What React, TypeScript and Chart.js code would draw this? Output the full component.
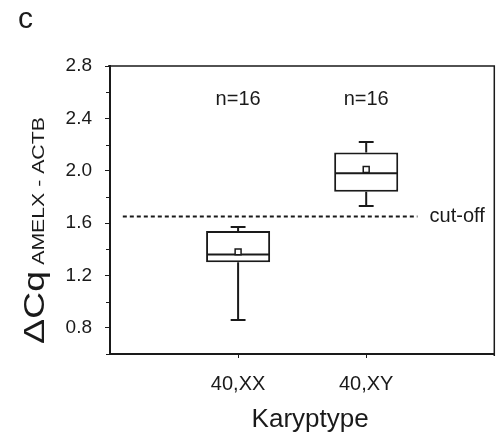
import React, { useEffect, useRef } from "react";
import { Chart, registerables } from "chart.js";

Chart.register(...registerables);

// ---------- data ----------
const categories = ["40,XX", "40,XY"];
const categoryPositions = [1, 2];
const whiskerLow = [0.86, 1.73];
const q1 = [1.3, 1.84];
const median = [1.36, 1.98];
const q3 = [1.54, 2.14];
const whiskerHigh = [1.57, 2.22];
const means = [1.38, 2.01];
const nLabels = ["n=16", "n=16"];
const cutoffValue = 1.65;
const cutoffRange = [0.1, 2.4];
const cutoffLabel = "cut-off";
const yTicks = [0.6, 0.8, 1.0, 1.2, 1.4, 1.6, 1.8, 2.0, 2.2, 2.4, 2.6, 2.8];
const yTickLabels = ["", "0.8", "", "1.2", "", "1.6", "", "2.0", "", "2.4", "", "2.8"];
const xTitle = "Karyptype";
const yTitleMain = "ΔCq";
const yTitleSub = "AMELX - ACTB";
const panelLabel = "c";

// ---------- style ----------
const FONT = '"Liberation Sans", Arial, Helvetica, sans-serif';
const INK = "#1a1a1a";
const BOX_HALF = 0.25;
const CAP_HALF = 0.058;
const N_LABEL_Y = 2.5;
const CUTOFF_LABEL_X = 2.495;

const decorPlugin = {
  id: "decor",
  afterDatasetDraw(chart: any, args: any) {
    if (args.index !== 0) return;
    const { ctx } = chart;
    const x = chart.scales.x;
    const y = chart.scales.y;
    ctx.save();
    ctx.strokeStyle = INK;
    ctx.lineWidth = 2;
    ctx.lineCap = "butt";
    categoryPositions.forEach((c, i) => {
      const cx = x.getPixelForValue(c);
      const l = x.getPixelForValue(c - BOX_HALF);
      const r = x.getPixelForValue(c + BOX_HALF);
      const cl = x.getPixelForValue(c - CAP_HALF);
      const cr = x.getPixelForValue(c + CAP_HALF);
      const yMed = y.getPixelForValue(median[i]);
      const yQ1 = y.getPixelForValue(q1[i]);
      const yQ3 = y.getPixelForValue(q3[i]);
      const yLo = y.getPixelForValue(whiskerLow[i]);
      const yHi = y.getPixelForValue(whiskerHigh[i]);
      ctx.beginPath();
      ctx.moveTo(l + 1, yMed);
      ctx.lineTo(r - 1, yMed);
      ctx.moveTo(cx, yQ3);
      ctx.lineTo(cx, yHi);
      ctx.moveTo(cl, yHi);
      ctx.lineTo(cr, yHi);
      ctx.moveTo(cx, yQ1);
      ctx.lineTo(cx, yLo);
      ctx.moveTo(cl, yLo);
      ctx.lineTo(cr, yLo);
      ctx.stroke();
    });
    ctx.restore();
  },
  afterDraw(chart: any) {
    const { ctx, chartArea } = chart;
    const x = chart.scales.x;
    const y = chart.scales.y;
    ctx.save();
    ctx.strokeStyle = INK;
    ctx.lineWidth = 1.5;
    ctx.beginPath();
    ctx.moveTo(chartArea.left - 2, chartArea.top);
    ctx.lineTo(chartArea.right, chartArea.top);
    ctx.lineTo(chartArea.right, chartArea.bottom + 2);
    ctx.stroke();
    ctx.lineWidth = 1;
    ctx.beginPath();
    yTicks.forEach((v, i) => {
      if (yTickLabels[i] !== "") return;
      const py = Math.round(y.getPixelForValue(v)) + 0.5;
      ctx.moveTo(chartArea.left - 4, py);
      ctx.lineTo(chartArea.left, py);
    });
    ctx.stroke();

    ctx.fillStyle = INK;
    ctx.font = `20px ${FONT}`;
    ctx.textAlign = "center";
    ctx.textBaseline = "alphabetic";
    categoryPositions.forEach((c, i) => {
      ctx.fillText(nLabels[i], x.getPixelForValue(c), y.getPixelForValue(N_LABEL_Y));
    });
    ctx.textAlign = "left";
    ctx.textBaseline = "middle";
    ctx.fillText(cutoffLabel, x.getPixelForValue(CUTOFF_LABEL_X), y.getPixelForValue(cutoffValue));
    ctx.font = `26px ${FONT}`;
    ctx.textAlign = "center";
    ctx.textBaseline = "alphabetic";
    ctx.fillText(xTitle, (chartArea.left + chartArea.right) / 2 + 8, chart.height - 7.5);
    ctx.font = `30px ${FONT}`;
    ctx.textAlign = "left";
    ctx.fillText(panelLabel, 18, 28);
    // y title (stretched along the text direction)
    ctx.translate(43.5, 344);
    ctx.rotate(-Math.PI / 2);
    ctx.scale(1.25, 1);
    ctx.font = `30px ${FONT}`;
    ctx.fillText(yTitleMain, 0, 0);
    const w = ctx.measureText(yTitleMain).width;
    ctx.font = `17px ${FONT}`;
    ctx.fillText(yTitleSub, w + 5, 0);
    ctx.restore();
  },
};

export default function App() {
  const ref = useRef<HTMLCanvasElement | null>(null);
  useEffect(() => {
    document.body.style.margin = "0";
    const canvas = ref.current;
    if (!canvas) return;
    const chart = new Chart(canvas, {
      type: "bar",
      data: {
        datasets: [
          {
            type: "bar",
            label: "box",
            data: categoryPositions.map((c, i) => ({ x: c, y: [q1[i], q3[i]] })) as any,
            backgroundColor: "#ffffff",
            borderColor: INK,
            borderWidth: 2,
            borderSkipped: false,
            categoryPercentage: 1,
            barPercentage: 0.5,
            order: 2,
          } as any,
          {
            type: "scatter",
            label: "mean",
            data: categoryPositions.map((c, i) => ({ x: c, y: means[i] })),
            pointStyle: "rect",
            pointRadius: 4.2,
            pointBorderWidth: 1.5,
            pointBackgroundColor: "#ffffff",
            pointBorderColor: INK,
            order: 1,
          } as any,
          {
            type: "line",
            label: "cut-off",
            data: cutoffRange.map((v) => ({ x: v, y: cutoffValue })),
            borderColor: INK,
            borderWidth: 2,
            borderDash: [4, 3],
            pointRadius: 0,
            fill: false,
            order: 3,
          } as any,
        ],
      },
      options: {
        animation: false,
        responsive: false,
        devicePixelRatio: 1,
        events: [],
        layout: { padding: { top: 66, right: 1, left: 0, bottom: 0 } },
        plugins: { legend: { display: false }, tooltip: { enabled: false } },
        scales: {
          x: {
            type: "linear",
            min: 0,
            max: 3,
            offset: false,
            afterFit: (s: any) => {
              s.height = 80;
            },
            afterBuildTicks: (s: any) => {
              s.ticks = categoryPositions.map((v) => ({ value: v }));
            },
            ticks: {
              autoSkip: false,
              maxRotation: 0,
              padding: 14,
              color: INK,
              font: { family: FONT, size: 20 },
              callback: (v: any) => {
                const i = categoryPositions.indexOf(Number(v));
                return i >= 0 ? categories[i] : "";
              },
            },
            grid: {
              offset: false,
              drawOnChartArea: false,
              drawTicks: true,
              tickLength: 4,
              tickColor: INK,
              tickWidth: 1,
            },
            border: { display: true, color: INK, width: 2 },
          },
          y: {
            type: "linear",
            min: 0.6,
            max: 2.8,
            afterFit: (s: any) => {
              s.width = 110;
            },
            afterBuildTicks: (s: any) => {
              s.ticks = yTicks.map((v) => ({ value: v }));
            },
            ticks: {
              autoSkip: false,
              padding: 13,
              color: INK,
              font: { family: FONT, size: 19 },
              callback: (_v: any, i: number) => yTickLabels[i],
            },
            grid: {
              drawOnChartArea: false,
              drawTicks: true,
              tickLength: 5,
              tickWidth: 1,
              tickColor: (c: any) => (yTickLabels[c.index] ? INK : "rgba(0,0,0,0)"),
            },
            border: { display: true, color: INK, width: 2 },
          },
        },
      } as any,
      plugins: [decorPlugin],
    });
    return () => chart.destroy();
  }, []);
  return (
    <div style={{ width: 500, height: 434, background: "#ffffff" }}>
      <canvas ref={ref} width={500} height={434} style={{ display: "block" }} />
    </div>
  );
}
